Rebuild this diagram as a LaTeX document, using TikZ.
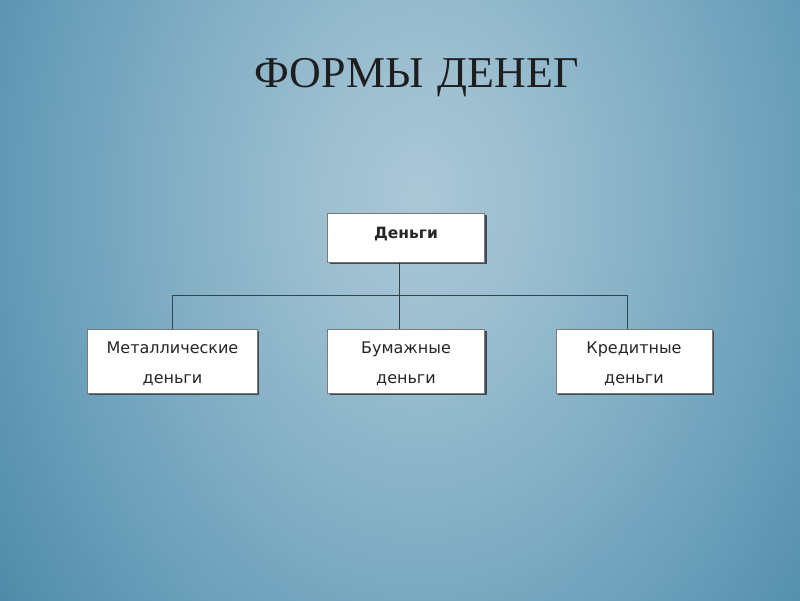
\documentclass[tikz,border=0pt]{standalone}
\usepackage{fontspec}
\newfontfamily\titlefont{Liberation Serif}
\newfontfamily\boxfont{DejaVu Sans}
\usetikzlibrary{calc}
\definecolor{bgA}{HTML}{AAC7D6}
\definecolor{bgB}{HTML}{9EC0D1}
\definecolor{bgC}{HTML}{85B0C6}
\definecolor{bgD}{HTML}{6A9FBA}
\definecolor{bgE}{HTML}{4C89A7}
\definecolor{titlecol}{HTML}{1E1E1E}
\definecolor{boxline}{HTML}{7A7A7A}
\definecolor{boxshadow}{HTML}{3E4A50}
\definecolor{conncol}{HTML}{33434A}
\pgfdeclareradialshading{slidebg}{\pgfpoint{0bp}{0bp}}{%
  color(0bp)=(bgA); color(3bp)=(bgB); color(7.5bp)=(bgC); color(12bp)=(bgD); color(17bp)=(bgE); color(50bp)=(bgE)}
\tikzset{
  box/.style={draw=boxline, line width=0.8pt, fill=white, inner sep=0pt, rectangle,
    font=\boxfont\fontsize{16}{30}\selectfont, text=black!85},
  topbox/.style={box, minimum width=157pt, text height=25pt, text depth=24pt,
    font=\boxfont\bfseries\fontsize{15.5}{20}\selectfont},
  lowbox/.style={box, text height=24pt, text depth=40pt},
  shadowbox/.style={fill=boxshadow, draw=none},
  conn/.style={draw=conncol, line width=0.9pt}
}
\begin{document}
\begin{tikzpicture}[x=1pt,y=-1pt]
  \useasboundingbox (0,0) rectangle (800,600);
  \begin{scope}
    \clip (0,0) rectangle (800,600);
    \shade[shading=slidebg] (420,200) ellipse [x radius=780, y radius=1050];
  \end{scope}
  % title
  \node[anchor=base, text=titlecol, font=\titlefont\fontsize{44}{50}\selectfont, inner sep=0pt] (title) at (416.5,87) {ФОРМЫ\hspace{14pt}ДЕНЕГ};
  % shadows
  \fill[shadowbox] (329.5,214.5) rectangle (486.5,263.5);
  \fill[shadowbox] (88.5,330.5) rectangle (258.5,394.5);
  \fill[shadowbox] (329.5,330.5) rectangle (486.5,394.5);
  \fill[shadowbox] (557.5,330.5) rectangle (713.5,394.5);
  % boxes
  \node[topbox] (top) at (406,237.5) {Деньги};
  \node[lowbox, minimum width=170pt] (left) at (172.5,361) {\begin{tabular}[t]{@{}c@{}}Металлические\\деньги\end{tabular}};
  \node[lowbox, minimum width=157pt] (mid) at (406,361) {\begin{tabular}[t]{@{}c@{}}Бумажные\\деньги\end{tabular}};
  \node[lowbox, minimum width=156pt] (right) at (634,361) {\begin{tabular}[t]{@{}c@{}}Кредитные\\деньги\end{tabular}};
  % connectors
  \coordinate (bus) at (399,295);
  \draw[conn] ([xshift=-7pt]top.south) -- ([xshift=-7pt]mid.north);
  \draw[conn] ([xshift=-0.5pt]left.north) |- ([xshift=-7pt]right.north |- bus) -- ([xshift=-7pt]right.north);
\end{tikzpicture}
\end{document}
